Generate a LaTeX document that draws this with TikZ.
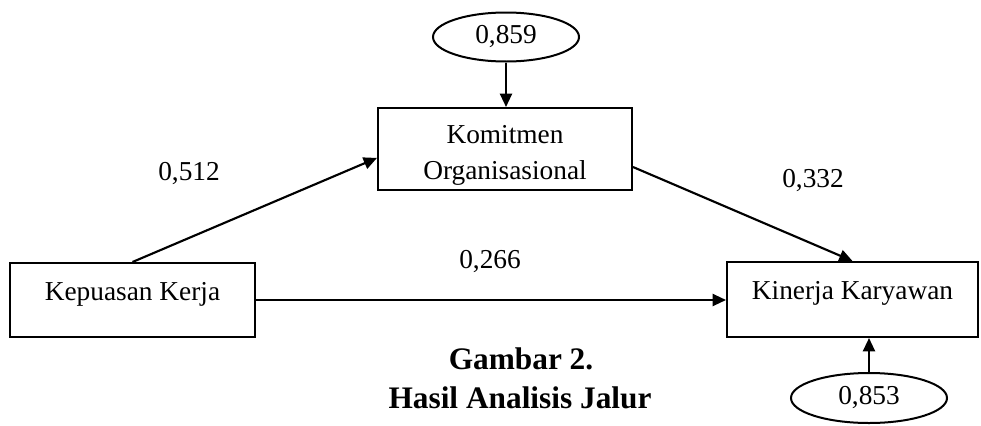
\documentclass[tikz,border=0pt]{standalone}
\usepackage{fontspec}
\setmainfont{Liberation Serif}
\usetikzlibrary{arrows.meta,shapes.geometric}
\tikzset{
  varbox/.style={draw, line width=1.5pt, align=center, inner sep=0pt},
  errnode/.style={draw, ellipse, line width=1.5pt, inner sep=0pt},
  pathline/.style={line width=1.6pt, -{Triangle[length=10pt,width=9pt]}},
  judul/.style={font=\fontsize{23.5}{28}\selectfont\bfseries}
}

\begin{document}
\begin{tikzpicture}[x=0.75pt,y=0.75pt,yscale=-1,xscale=1,font=\fontsize{20.5}{27}\selectfont]
\useasboundingbox (0,0) rectangle (981,425);
% Boxes
\node [varbox, minimum width=183.75pt, minimum height=55.5pt, text depth=12.5pt] (kepuasan) at (132.5,300) {Kepuasan Kerja};
\node [varbox, minimum width=190.5pt, minimum height=61.5pt, text height=50pt] (komitmen) at (505,149) {Komitmen\\Organisasional};
\node [varbox, minimum width=188.25pt, minimum height=56.25pt, text depth=14pt] (kinerja) at (852.5,299.5) {Kinerja Karyawan};
% Residuals
\node [errnode, minimum width=109.5pt, minimum height=36.75pt] (err1) at (506,37) {0,859};
\node [errnode, minimum width=117pt, minimum height=37.5pt] (err2) at (869,398) {0,853};
% Paths
\draw [pathline] (kepuasan.north) -- (komitmen.184);
\draw [pathline] (komitmen.-8.5) -- (kinerja.north);
\draw [pathline] (kepuasan.east) -- (kepuasan.east -| kinerja.west);
\draw [pathline] (err1.south) -- (err1.south |- komitmen.north);
\draw [pathline] (err2.north) -- (err2.north |- kinerja.south);
% Coefficients
\node (b512) at (189,174) {0,512};
\node (b332) at (813,181) {0,332};
\node (b266) at (490,262) {0,266};
% Caption
\node [judul] (judul1) at (521,359) {Gambar 2.};
\node [judul] (judul2) at (520,398) {Hasil Analisis Jalur};
\end{tikzpicture}
\end{document}
